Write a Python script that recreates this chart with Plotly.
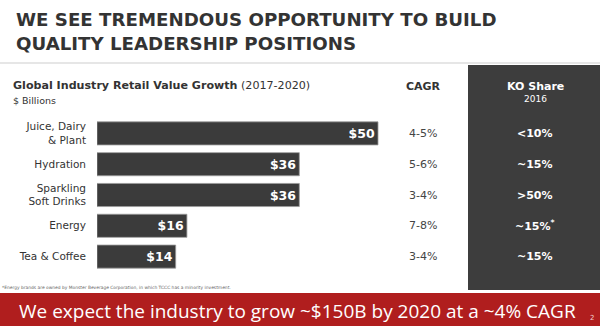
import plotly.graph_objects as go

# Data
categories = ["Juice, Dairy<br>& Plant", "Hydration", "Sparkling<br>Soft Drinks", "Energy", "Tea & Coffee"]
growth_bn = [50, 36, 36, 16, 14]
cagr = ["4-5%", "5-6%", "3-4%", "7-8%", "3-4%"]
ko_share = ["<10%", "~15%", ">50%", "~15%<sup>*</sup>", "~15%"]

W, H = 600, 326
FONT = "DejaVu Sans"
BANNER_FONT = "Open Sans"
DARK = "#3b3b3b"
TEXT = "#333333"
RED = "#b01e1e"


def px(x):
    return x / W


def py(y):
    return 1 - y / H


fig = go.Figure()

fig.add_trace(go.Bar(
    x=growth_bn,
    y=categories,
    orientation="h",
    marker=dict(color=DARK, line=dict(color="#9a9a9a", width=0.8)),
    text=[f"${v}" for v in growth_bn],
    textposition="inside",
    insidetextanchor="end",
    textfont=dict(family=FONT, size=12.5, color="white", weight="bold"),
    cliponaxis=False,
    hoverinfo="skip",
))

shapes = [
    # separator under the headline
    dict(type="line", xref="paper", yref="paper", x0=0, x1=1, y0=py(63), y1=py(63),
         line=dict(color="#e6e6e6", width=2)),
    # KO share panel
    dict(type="rect", xref="paper", yref="paper", x0=px(468), x1=1, y0=py(290), y1=py(65),
         fillcolor="#3d3d3d", line=dict(width=0), layer="below"),
    # bottom banner
    dict(type="rect", xref="paper", yref="paper", x0=0, x1=1, y0=0, y1=py(293),
         fillcolor=RED, line=dict(width=0), layer="below"),
]


def label(text, x, y, size, color=TEXT, xanchor="left", yanchor="middle", align="left",
          family=FONT, **kw):
    return dict(text=text, x=x, y=y, xref="paper", yref="paper", showarrow=False,
                xanchor=xanchor, yanchor=yanchor, align=align,
                font=dict(family=family, size=size, color=color, **kw))


annotations = [
    label("WE SEE TREMENDOUS OPPORTUNITY TO BUILD<br>QUALITY LEADERSHIP POSITIONS",
          px(14), py(7), 18.2, yanchor="top", weight="bold"),
    label("<b>Global Industry Retail Value Growth</b> (2017-2020)", px(11), py(85), 11.1),
    label("$ Billions", px(11), py(100), 9.5),
    label("<b>CAGR</b>", px(423), py(86), 11, xanchor="center"),
    label("<b>KO Share</b>", px(535), py(86), 11, color="white", xanchor="center"),
    label("2016", px(535), py(99), 9, color="white", xanchor="center"),
    label("*Energy brands are owned by Monster Beverage Corporation, in which TCCC has a minority investment.",
          0, py(287), 4.4, color="#666666"),
    label("We expect the industry to grow ~$150B by 2020 at a ~4% CAGR",
          px(297), py(311), 19, color="white", xanchor="center", family=BANNER_FONT),
    label("2", px(592), py(318), 7, color="#f0d0d0", xanchor="center"),
]

for cat, c, k in zip(categories, cagr, ko_share):
    annotations.append(dict(text=c, x=px(423), y=cat, xref="paper", yref="y", showarrow=False,
                            xanchor="center", yanchor="middle",
                            font=dict(family=FONT, size=11, color="#444444")))
    annotations.append(dict(text=f"<b>{k}</b>", x=px(535), y=cat, xref="paper", yref="y",
                            showarrow=False, xanchor="center", yanchor="middle",
                            font=dict(family=FONT, size=11, color="white")))

px_per_unit = (378 - 97) / 50
x_right = 468
fig.update_layout(
    width=W, height=H,
    margin=dict(l=0, r=0, t=0, b=0),
    paper_bgcolor="white", plot_bgcolor="rgba(0,0,0,0)",
    showlegend=False,
    bargap=0.25,
    xaxis=dict(domain=[px(97), px(x_right)], range=[0, (x_right - 97) / px_per_unit],
               visible=False, fixedrange=True),
    yaxis=dict(domain=[py(272), py(118)], range=[4.5, -0.5],
               showgrid=False, zeroline=False, showline=False, ticks="",
               ticklabelstandoff=10,
               tickfont=dict(family=FONT, size=10.5, color=TEXT), fixedrange=True),
    shapes=shapes,
    annotations=annotations,
)

fig.write_html("out.html")
